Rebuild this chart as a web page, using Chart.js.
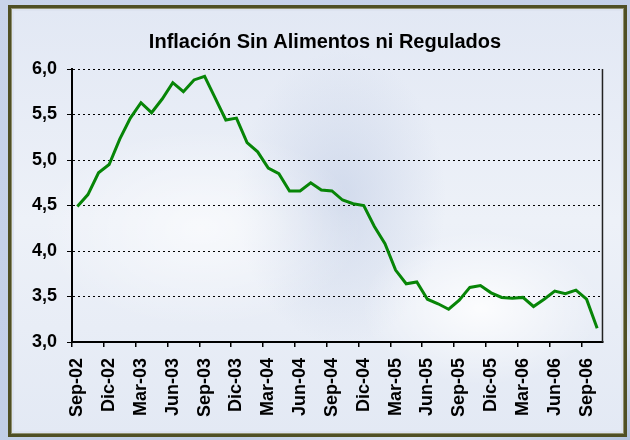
<!DOCTYPE html>
<html lang="es">
<head>
<meta charset="utf-8">
<title>Inflación Sin Alimentos ni Regulados</title>
<script src="https://cdn.jsdelivr.net/npm/chart.js"></script>
<style>
  html, body { margin: 0; padding: 0; }
  body {
    width: 630px; height: 440px; overflow: hidden; position: relative;
    background: linear-gradient(155deg, #c9d4ea 0%, #c0cde6 75%, #dbe4f3 86%, #b4c4e0 100%);
  }
  #marco {
    position: absolute; left: 8px; top: 5px; width: 613px; height: 426px;
    border: 3px solid #4f4f24;
    box-shadow: inset 0 0 0 1px #8f8f70, inset 0 0 0 3px #dde3f0;
    background:
      radial-gradient(ellipse 170px 110px at 470px 300px, rgba(255,255,255,0.85), rgba(255,255,255,0) 70%),
      radial-gradient(ellipse 230px 140px at 190px 220px, rgba(255,255,255,0.6), rgba(255,255,255,0) 70%),
      radial-gradient(ellipse 150px 210px at 330px 190px, rgba(188,201,227,0.55), rgba(188,201,227,0) 70%),
      linear-gradient(180deg, #e2e8f4 0%, #edf1f8 50%, #e3e9f4 100%);
  }
  #grafico { position: absolute; left: 0; top: 0; }
</style>
</head>
<body>
<div id="marco"></div>
<canvas id="grafico" width="630" height="440"></canvas>
<script>
var titulo = 'Inflación Sin Alimentos ni Regulados';

var meses = [
  'Sep-02', 'Oct-02', 'Nov-02', 'Dic-02', 'Ene-03', 'Feb-03', 'Mar-03', 'Abr-03', 'May-03', 'Jun-03',
  'Jul-03', 'Ago-03', 'Sep-03', 'Oct-03', 'Nov-03', 'Dic-03', 'Ene-04', 'Feb-04', 'Mar-04', 'Abr-04',
  'May-04', 'Jun-04', 'Jul-04', 'Ago-04', 'Sep-04', 'Oct-04', 'Nov-04', 'Dic-04', 'Ene-05', 'Feb-05',
  'Mar-05', 'Abr-05', 'May-05', 'Jun-05', 'Jul-05', 'Ago-05', 'Sep-05', 'Oct-05', 'Nov-05', 'Dic-05',
  'Ene-06', 'Feb-06', 'Mar-06', 'Abr-06', 'May-06', 'Jun-06', 'Jul-06', 'Ago-06', 'Sep-06', 'Oct-06'
];

var inflacion = [
  4.49, 4.62, 4.86, 4.95, 5.23, 5.46, 5.63, 5.52, 5.67, 5.85,
  5.75, 5.88, 5.92, 5.68, 5.44, 5.46, 5.19, 5.09, 4.91, 4.85,
  4.66, 4.66, 4.75, 4.67, 4.66, 4.56, 4.52, 4.50, 4.27, 4.08,
  3.79, 3.64, 3.66, 3.47, 3.42, 3.36, 3.46, 3.60, 3.62, 3.54,
  3.49, 3.48, 3.49, 3.39, 3.47, 3.56, 3.53, 3.57, 3.47, 3.15
];

// eje y: 3,0 a 6,0 cada 0,5 ; etiqueta del eje x cada 3 meses
var yMin = 3;
var yMax = 6;
var yPaso = 0.5;
var cadaMeses = 3;

// el eje y es angosto para centrar el titulo; que sus etiquetas no se recorten
var ejeSinRecorte = {
  id: 'ejeSinRecorte',
  afterLayout: function(chart) {
    chart.scales.y.left = 0;
  }
};

// borde derecho del area del grafico
var bordeDerecho = {
  id: 'bordeDerecho',
  afterDraw: function(chart) {
    var a = chart.chartArea;
    var ctx = chart.ctx;
    ctx.save();
    ctx.strokeStyle = '#222';
    ctx.lineWidth = 1.5;
    ctx.beginPath();
    ctx.moveTo(a.right, a.top);
    ctx.lineTo(a.right, a.bottom);
    ctx.stroke();
    ctx.restore();
  }
};

function init() {
  Chart.defaults.font.family = '"Liberation Sans", Arial, sans-serif';
  Chart.defaults.color = '#000';

  createInflacionChart();
}

function createInflacionChart() {

  var element = document.getElementById('grafico').getContext('2d');

  var chart = new Chart(element, {
    type: 'line',
    data: {
      labels: meses,
      datasets: [{
        label: titulo,
        data: inflacion,
        borderColor: '#078507',
        borderWidth: 3,
        pointRadius: 0,
        tension: 0,
        fill: false
      }]
    },
    options: {
      responsive: false,
      animation: false,
      layout: { padding: { left: 43, right: 23, top: 10, bottom: 10 } },
      plugins: {
        legend: { display: false },
        tooltip: { enabled: false },
        title: {
          display: true,
          text: titulo,
          color: '#000',
          font: { size: 20, weight: 'bold' },
          padding: { top: 20, bottom: 15 }
        }
      },
      scales: {
        x: {
          offset: true,
          grid: {
            offset: true,
            drawOnChartArea: false,
            tickLength: 5,
            lineWidth: 1.5,
            color: function(c) { return c.index % cadaMeses === 0 ? '#000' : 'rgba(0,0,0,0)'; }
          },
          border: { display: true, color: '#000', width: 2 },
          ticks: {
            autoSkip: false,
            minRotation: 90,
            maxRotation: 90,
            padding: 11,
            color: '#000',
            font: { size: 18, weight: 'bold' },
            callback: function(v, i) { return i % cadaMeses === 0 ? meses[i] : ''; }
          },
          afterFit: function(s) { s.height = 88; }
        },
        y: {
          min: yMin,
          max: yMax,
          grid: { color: '#000', lineWidth: 1, tickLength: 5, tickBorderDash: [] },
          border: { display: true, color: '#000', width: 2, dash: [2, 3] },
          ticks: {
            stepSize: yPaso,
            padding: 10,
            color: '#000',
            font: { size: 18, weight: 'bold' },
            callback: function(v) { return v.toFixed(1).replace('.', ','); }
          },
          afterFit: function(s) { s.width = 29; }
        }
      }
    },
    plugins: [ejeSinRecorte, bordeDerecho]
  });

}

init();
</script>
</body>
</html>
